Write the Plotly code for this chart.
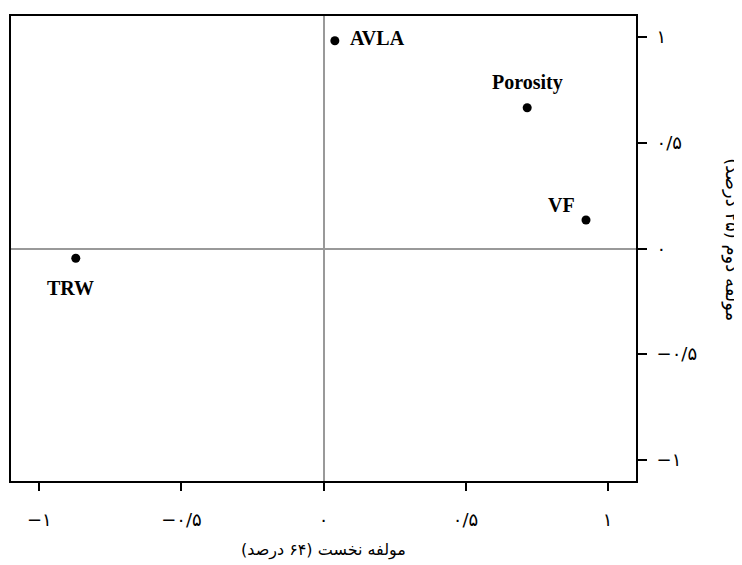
import plotly.graph_objects as go

# بارهای مولفه‌ها (PCA loadings)
VARIABLES = ["AVLA", "Porosity", "VF", "TRW"]
PC1 = [0.04, 0.717, 0.924, -0.872]
PC2 = [0.983, 0.666, 0.135, -0.046]

TICK_VALS = [-1, -0.5, 0, 0.5, 1]
TICK_TEXT = ["\u2212\u06f1", "\u2212\u06f0/\u06f5", "\u06f0", "\u06f0/\u06f5", "\u06f1"]

X_TITLE = "مولفه نخست (۶۴ درصد)"
Y_TITLE = "مولفه دوم (۲۵ درصد)"

# جای برچسب نسبت به نقطه: (xanchor, yanchor, xshift, yshift)
LABEL_POS = {
    "AVLA":     ("left", "middle", 13, 3),
    "Porosity": ("center", "bottom", 0, 12),
    "VF":       ("right", "middle", -9, 15),
    "TRW":      ("center", "top", -5, -17),
}

LATIN_FONT = "Liberation Serif, Times New Roman, serif"
FA_FONT = "DejaVu Sans, sans-serif"

# صفحه‌ی html حاشیه‌ی ۸ پیکسلی body دارد؛ اندازه‌ی شکل را با آن جور می‌کنیم
PAGE_W, PAGE_H, BODY_PAD = 742, 565, 8


def rtl(s):
    # RLM در دو سو تا مرورگر کل متن را راست‌به‌چپ بچیند
    return "\u200f" + s + "\u200f"


fig = go.Figure()
fig.add_trace(go.Scatter(
    x=PC1, y=PC2,
    mode="markers",
    marker=dict(size=9, color="black"),
    hoverinfo="skip", showlegend=False,
))

for name, px_, py_ in zip(VARIABLES, PC1, PC2):
    xa, ya, dx, dy = LABEL_POS[name]
    fig.add_annotation(
        x=px_, y=py_, text=f"<b>{name}</b>",
        showarrow=False, xanchor=xa, yanchor=ya, xshift=dx, yshift=dy,
        font=dict(family=LATIN_FONT, size=20, color="black"),
    )

# عنوان محورها
fig.add_annotation(
    x=0.5, y=0, xref="paper", yref="paper", yshift=-69,
    text=rtl(X_TITLE), showarrow=False, xanchor="center", yanchor="middle",
    font=dict(family=FA_FONT, size=16, color="black"),
)
fig.add_annotation(
    x=1, y=0.52, xref="paper", yref="paper", xshift=96,
    text=rtl(Y_TITLE), showarrow=False, textangle=90,
    xanchor="center", yanchor="middle",
    font=dict(family=FA_FONT, size=18, color="black"),
)

axis_common = dict(
    range=[-1.1, 1.1],
    tickvals=TICK_VALS, ticktext=TICK_TEXT,
    showgrid=False,
    zeroline=True, zerolinecolor="#999999", zerolinewidth=2,
    showline=True, mirror=True, linecolor="black", linewidth=2,
    ticks="outside", tickcolor="black", tickwidth=2,
    tickfont=dict(family=FA_FONT, size=18, color="black"),
)

fig.update_layout(
    width=PAGE_W - BODY_PAD, height=PAGE_H - BODY_PAD,
    paper_bgcolor="white", plot_bgcolor="white",
    margin=dict(l=1, r=106, t=8, b=84),
    xaxis=dict(**axis_common, ticklen=8, ticklabelstandoff=13),
    yaxis=dict(**axis_common, side="right", ticklen=9, ticklabelstandoff=6),
    showlegend=False,
)

fig.write_html("out.html")
